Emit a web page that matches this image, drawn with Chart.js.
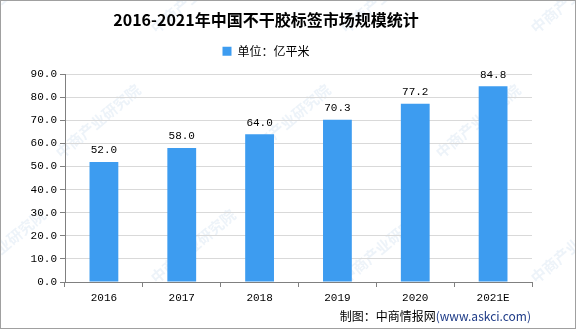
<!DOCTYPE html>
<html>
<head>
<meta charset="utf-8">
<script src="https://cdn.jsdelivr.net/npm/chart.js@4.4.0/dist/chart.umd.min.js"></script>
<style>
  html, body { margin: 0; padding: 0; background: #fff; }
  #wrap { position: relative; width: 576px; height: 329px; }
</style>
</head>
<body>
<div id="wrap"><canvas id="chart" width="576" height="329"></canvas></div>
<script>
// 不干胶标签市场规模（亿平米）
const years = ['2016', '2017', '2018', '2019', '2020', '2021E'];
const marketSize = [52.0, 58.0, 64.0, 70.3, 77.2, 84.8];
const yTicks = [0, 10, 20, 30, 40, 50, 60, 70, 80, 90];

const BAR_COLOR = '#3d9cf0';
const CJK = '"Noto Sans CJK SC", "Noto Sans", sans-serif';
const NUM = '"Liberation Mono", "DejaVu Sans Mono", monospace';

// 图例下方多留一点空白
const legendGap = {
  id: 'legendGap',
  beforeInit(chart) {
    const legend = chart.legend;
    if (!legend) return;
    const fit = legend.fit.bind(legend);
    legend.fit = function () {
      fit();
      this.height += 7;
    };
  },
};

// 柱顶数值标签
const valueLabels = {
  id: 'valueLabels',
  afterDatasetsDraw(chart) {
    const { ctx } = chart;
    const meta = chart.getDatasetMeta(0);
    ctx.save();
    ctx.font = '11px ' + NUM;
    ctx.fillStyle = '#000';
    ctx.textAlign = 'center';
    ctx.textBaseline = 'bottom';
    meta.data.forEach((bar, i) => {
      ctx.fillText(marketSize[i].toFixed(1), bar.x, bar.y - 6);
    });
    ctx.restore();
  },
};

// 水印、外框和来源说明
const decorations = {
  id: 'decorations',
  beforeDraw(chart) {
    const { ctx } = chart;
    ctx.save();
    ctx.fillStyle = '#fff';
    ctx.fillRect(0, 0, chart.width, chart.height);
    ctx.font = 'bold 15px ' + CJK;
    ctx.fillStyle = 'rgba(150, 185, 220, 0.17)';
    for (let gx = -60; gx < 640; gx += 190) {
      for (let gy = 30; gy < 420; gy += 125) {
        ctx.save();
        ctx.translate(gx + (gy / 125 % 2) * 95, gy);
        ctx.rotate(-Math.PI / 4.5);
        ctx.fillText('中商产业研究院', 0, 0);
        ctx.restore();
      }
    }
    ctx.restore();
  },
  afterDraw(chart) {
    const { ctx } = chart;
    ctx.save();
    ctx.strokeStyle = '#a0a0a0';
    ctx.lineWidth = 1;
    ctx.strokeRect(0.5, 0.5, chart.width - 1, chart.height - 1);

    // 制图：中商情报网(www.askci.com)
    const right = 531;
    const y = 316;
    ctx.textBaseline = 'middle';
    ctx.textAlign = 'right';
    ctx.font = '12px ' + CJK;
    ctx.fillStyle = '#1f3c88';
    const site = '(www.askci.com)';
    ctx.fillText(site, right, y);
    const w = ctx.measureText(site).width;
    ctx.fillStyle = '#000';
    ctx.fillText('制图：中商情报网', right - w, y);
    ctx.restore();
  },
};

new Chart(document.getElementById('chart'), {
  type: 'bar',
  data: {
    labels: years,
    datasets: [{
      label: '单位：亿平米',
      data: marketSize,
      backgroundColor: BAR_COLOR,
      borderWidth: 0,
      categoryPercentage: 1,
      barPercentage: 0.37,
    }],
  },
  options: {
    responsive: false,
    animation: false,
    devicePixelRatio: 1,
    layout: { padding: { top: 0, right: 44, bottom: 0, left: 0 } },
    plugins: {
      title: {
        display: true,
        text: '2016-2021年中国不干胶标签市场规模统计',
        color: '#000',
        font: { family: CJK, size: 16, weight: 'bold' },
        padding: { top: 10, bottom: 10 },
      },
      legend: {
        display: true,
        labels: {
          color: '#000',
          font: { family: CJK, size: 12 },
          boxWidth: 9,
          boxHeight: 9,
          padding: 6,
        },
      },
      tooltip: { enabled: false },
    },
    scales: {
      x: {
        offset: true,
        grid: {
          offset: true,
          drawOnChartArea: false,
          drawTicks: true,
          tickLength: 5,
          tickColor: '#808080',
        },
        border: { color: '#808080' },
        ticks: {
          color: '#000',
          font: { family: NUM, size: 11 },
          padding: 4,
        },
        afterFit: (s) => { s.height = 47; },
      },
      y: {
        min: 0,
        max: 90,
        afterBuildTicks: (s) => { s.ticks = yTicks.map(v => ({ value: v })); },
        grid: {
          color: '#d9d9d9',
          tickColor: '#808080',
          tickLength: 5,
        },
        border: { color: '#808080' },
        ticks: {
          color: '#000',
          font: { family: NUM, size: 11 },
          padding: 3,
          callback: (v) => Number(v).toFixed(1),
        },
        afterFit: (s) => { s.width = 65; },
      },
    },
  },
  plugins: [legendGap, valueLabels, decorations],
});
</script>
</body>
</html>
